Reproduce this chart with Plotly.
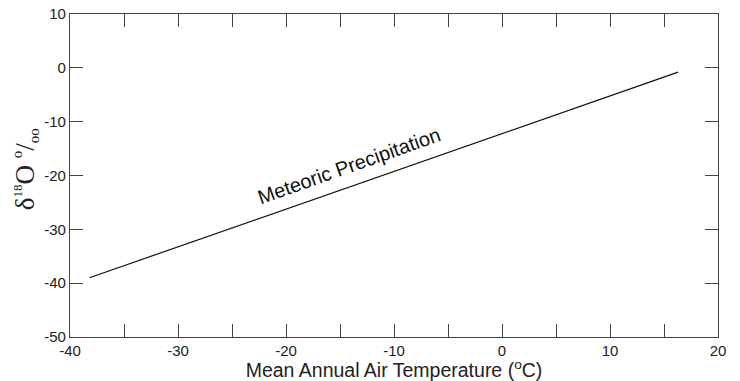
import plotly.graph_objects as go

temp = [-38.2, 16.3]
d18o = [-39.0, -0.8]
x_ticks = [-40, -35, -30, -25, -20, -15, -10, -5, 0, 5, 10, 15, 20]
x_labels = ["-40", "", "-30", "", "-20", "", "-10", "", "0", "", "10", "", "20"]
y_ticks = [-50, -40, -30, -20, -10, 0, 10]
y_labels = ["-50", "-40", "-30", "-20", "-10", "0", "10"]

fig = go.Figure()
fig.add_trace(go.Scatter(x=temp, y=d18o, mode="lines",
                         line=dict(color="#111111", width=1.2), showlegend=False))

fig.add_annotation(x=-14.2, y=-18.3, text="Meteoric Precipitation", showarrow=False,
                   textangle=-19.5, font=dict(family="Liberation Sans, Arial", size=20, color="#111111"))

ytitle = ("δ<sup><span style='font-size:13px'>18</span></sup>O "
          "<sup><span style='font-size:15px'>o</span></sup>/<sub><span style='font-size:15px'>oo</span></sub>")

fig.add_annotation(xref="paper", yref="paper", x=-0.069, y=0.52, text=ytitle, showarrow=False,
                   textangle=-90, xanchor="center", yanchor="middle",
                   font=dict(family="Liberation Serif, Times New Roman", size=27, color="#222222"))

fig.update_layout(
    width=740, height=381,
    margin=dict(l=70, r=22, t=14, b=44),
    paper_bgcolor="white", plot_bgcolor="white",
    font=dict(family="Liberation Sans, Arial", color="#222222"),
    xaxis=dict(range=[-40, 20], tickmode="array", tickvals=x_ticks, ticktext=x_labels,
               ticks="inside", ticklen=13, tickwidth=1.2, tickcolor="#444444",
               showline=True, linecolor="#444444", linewidth=1.2, mirror="ticks",
               showgrid=False, zeroline=False, tickfont=dict(size=15), automargin=False,
               title=dict(text="Mean Annual Air Temperature (<sup>o</sup>C)",
                          font=dict(size=19.5, color="#222222"), standoff=0)),
    yaxis=dict(range=[-50, 10], tickmode="array", tickvals=y_ticks, ticktext=y_labels,
               ticks="inside", ticklen=13, tickwidth=1.2, tickcolor="#444444",
               showline=True, linecolor="#444444", linewidth=1.2, mirror="ticks",
               showgrid=False, zeroline=False, tickfont=dict(size=15), automargin=False),
)

fig.write_html("out.html")
